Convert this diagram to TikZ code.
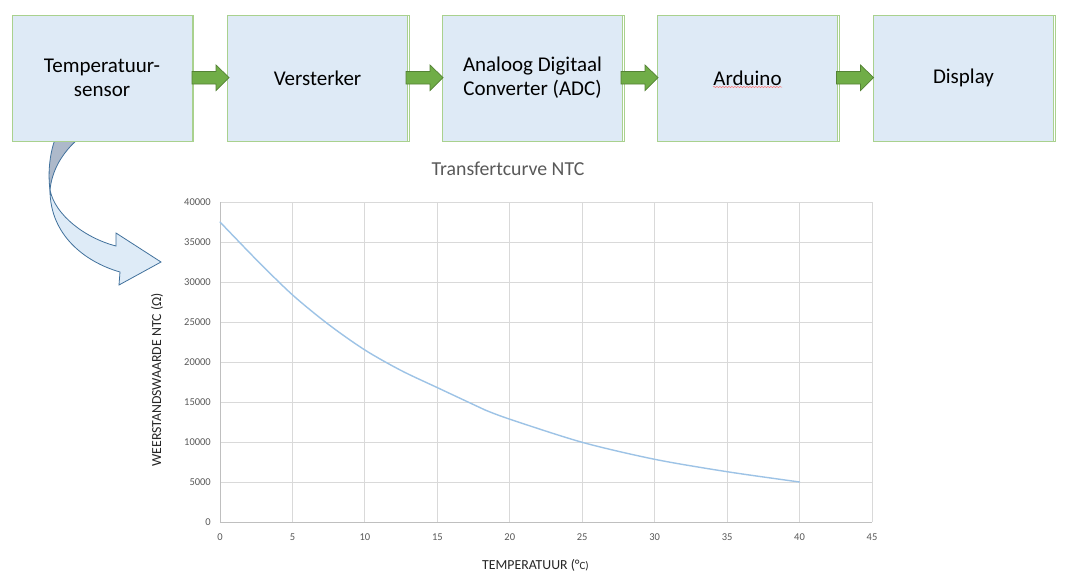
\documentclass[tikz,border=0pt]{standalone}
\usepackage{fontspec}
\setmainfont{Carlito}
\usetikzlibrary{decorations.pathmorphing}
\definecolor{boxfill}{HTML}{DEEAF6}
\definecolor{boxline}{HTML}{A9D18E}
\definecolor{arrfill}{HTML}{70AD47}
\definecolor{arrline}{HTML}{548235}
\definecolor{cafill}{HTML}{DEEBF7}
\definecolor{cagray}{HTML}{ADB9CA}
\definecolor{caline}{HTML}{41719C}
\definecolor{gridc}{HTML}{D9D9D9}
\definecolor{axisc}{HTML}{BFBFBF}
\definecolor{tickc}{HTML}{595959}
\definecolor{curvec}{HTML}{9DC3E6}
\tikzset{
  blockbox/.style={draw=boxline, fill=boxfill, line width=0.9pt, minimum width=180pt, minimum height=126pt, inner sep=0pt, align=center, font=\fontsize{21}{24}\selectfont, text=black},
  shadowbox/.style={draw=boxline, fill=white, line width=0.9pt, minimum width=180pt, minimum height=126pt, inner sep=0pt},
  greenarrow/.style={fill=arrfill, draw=arrline, line width=0.7pt, line join=miter},
  gridline/.style={draw=gridc, line width=0.8pt},
  axisline/.style={draw=axisc, line width=0.8pt},
  ytick/.style={anchor=east, text=tickc, font=\fontsize{10.5}{12}\selectfont, inner sep=0pt},
  xtick/.style={anchor=center, text=tickc, font=\fontsize{10.5}{12}\selectfont, inner sep=0pt},
  axistitle/.style={text=black!85, font=\fontsize{13.8}{16}\selectfont, inner sep=0pt},
  charttitle/.style={text=tickc, font=\fontsize{19.8}{22}\selectfont, inner sep=0pt},
  curvedarrow/.style={draw=caline, line width=0.8pt, line join=miter},
}
\newcommand{\greenarr}[1]{% #1 = start x
  \draw[greenarrow] (#1,71.5) -- ++(24,0) -- ++(0,-6.5) -- ++(13,12.5) -- ++(-13,13) -- ++(0,-6.5) -- ++(-24,0) -- cycle;
}
\begin{document}
\begin{tikzpicture}[x=1pt,y=-1pt]
\useasboundingbox (0,0) rectangle (1065,579);
\fill[white] (0,0) rectangle (1065,579);

% curved arrow (drawn before boxes)
\draw[curvedarrow, fill=cafill] (50,190) .. controls (50,235) and (85,262) .. (120,272)
  -- (119,285) -- (161,262) -- (116,233) -- (116,246)
  .. controls (85,238) and (55,215) .. (50,190) -- cycle;
\draw[curvedarrow, fill=cagray] (55.5,138) .. controls (49,155) and (48,175) .. (50,190)
  .. controls (52,170) and (62,153) .. (79,138) -- cycle;

% shadows
\foreach \cx in {102,317.5,532.5,747.5,963.5}{
  \node[shadowbox] at (\cx+1.8,78.8) {};
}
% boxes
\node[blockbox] (b1) at (102,78) {Temperatuur-\\sensor};
\node[blockbox] (b2) at (317.5,78) {Versterker};
\node[blockbox] (b3) at (532.5,78) {Analoog Digitaal\\Converter (ADC)};
\node[blockbox] (b4) at (747.5,78) {Arduino};
\node[blockbox] (b5) at (963.5,78) {Display};

% spell-check underline
\draw[red!55, line width=0.5pt, decorate, decoration={snake, amplitude=0.6pt, segment length=3pt}] (713,87) -- (782,87);

% green arrows
\greenarr{192}
\greenarr{406}
\greenarr{621}
\greenarr{836.5}

% chart title
\node[charttitle] (ttl) at (508,169) {Transfertcurve NTC};

% grid
\foreach \k in {1,...,9}{
  \draw[gridline] (220+72.444*\k,202) -- (220+72.444*\k,522);
}
\foreach \k in {1,...,8}{
  \draw[gridline] (220,522-40*\k) -- (872,522-40*\k);
}
\draw[axisline] (220,202) -- (220,522) -- (872,522);

% y ticks
\foreach \k in {0,...,8}{
  \node[ytick] at (211,522-40*\k) {\the\numexpr 5000*\k\relax};
}
% x ticks
\foreach \k in {0,...,9}{
  \node[xtick] at (220+72.444*\k,537) {\the\numexpr 5*\k\relax};
}

% curve
\draw[curvec, line width=1.4pt, line join=round, line cap=round]
  plot[smooth, tension=0.5] coordinates {(220,222) (256.2,259.5) (292.4,294.8) (328.6,324.5) (364.9,350) (401.1,370.5) (437.3,387.6) (485.1,410)};
\draw[curvec, line width=1.4pt, line join=round, line cap=round]
  plot[smooth, tension=0.5] coordinates {(485.1,410) (509.8,419.2) (582.2,442.3) (654.7,459.3) (727.1,471.7) (799.6,482)};

% axis titles
\node[axistitle] (xt) at (535.5,565) {TEMPERATUUR (°{\fontsize{11}{13}\selectfont C)}};
\node[axistitle, rotate=90] (yt) at (157,380) {WEERSTANDSWAARDE NTC (Ω)};
\end{tikzpicture}
\end{document}
